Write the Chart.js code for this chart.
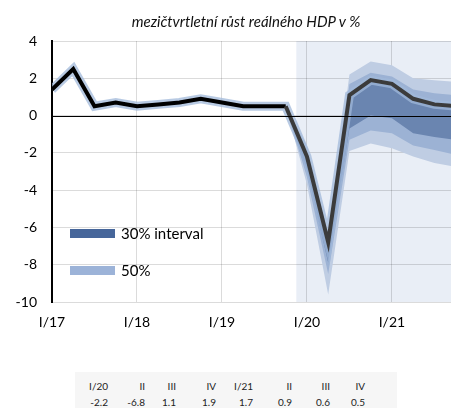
<!DOCTYPE html>
<html>
<head>
<meta charset="utf-8">
<script src="https://cdn.jsdelivr.net/npm/chart.js@4"></script>
<style>
  body { margin: 0; background: #fff; font-family: Lato, sans-serif; }
  #wrap { position: relative; width: 451px; height: 408px; overflow: hidden; }
  #chartBox { position: absolute; left: 0; top: 0; width: 451px; height: 340px; }
  #title { position: absolute; left: 46px; width: 400px; top: 12px; text-align: center;
           font-size: 15px; font-style: italic; color: #111; }
  .leg { position: absolute; left: 70px; font-size: 15px; color: #000; display: flex; align-items: center; }
  .leg span.sw { display: inline-block; width: 45px; height: 9px; margin-right: 6px; }
  #tableBox { position: absolute; left: 75px; top: 372px; width: 322px; height: 40px; background: #f6f6f6; }
  #tableBox table { border-collapse: collapse; font-size: 10px; color: #222; }
  #tableBox td { text-align: right; padding: 0; height: 16px; }
</style>
</head>
<body>
<div id="wrap">
  <div id="chartBox"><canvas id="gdpChart" width="451" height="340"></canvas></div>
  <div id="title"></div>
  <div class="leg" id="leg1" style="top:224px"><span class="sw" style="background:#46669a"></span><span></span></div>
  <div class="leg" id="leg2" style="top:261px"><span class="sw" style="background:#9cb3d8"></span><span></span></div>
  <div id="tableBox"><table id="fcTable"></table></div>
</div>
<script>
const titleText = 'mezičtvrtletní růst reálného HDP v %';

// quarters I/17 .. IV/21
const quarters = ['I/17', 'II', 'III', 'IV', 'I/18', 'II', 'III', 'IV', 'I/19', 'II', 'III', 'IV',
                  'I/20', 'II', 'III', 'IV', 'I/21', 'II', 'III', 'IV'];
const xTickLabels = ['I/17', 'I/18', 'I/19', 'I/20', 'I/21'];
const yTicks = [4, 2, 0, -2, -4, -6, -8, -10];

// GDP q/q growth (history + forecast)
const gdp = [1.4, 2.5, 0.5, 0.7, 0.5, 0.6, 0.7, 0.9, 0.7, 0.5, 0.5, 0.5,
             -2.2, -6.8, 1.1, 1.9, 1.7, 0.9, 0.6, 0.5];
const forecastFrom = 12;   // I/20
const shadeFrom = 11.5;

// fan bands, from IV/19 on
const bandStart = 11;
const outerUpper = [0.5, -1.6, -6.4, 2.2, 2.9, 2.7, 2.0, 1.9, 1.8];
const midUpper   = [0.5, -1.9, -6.6, 1.7, 2.3, 2.1, 1.4, 1.2, 1.1];
const innerUpper = [0.5, -2.1, -6.8, 1.1, 1.8, 1.6, 0.8, 0.5, 0.4];
const innerLower = [0.5, -2.9, -7.9, -0.7, 0.0, -0.15, -0.95, -1.15, -1.3];
const midLower   = [0.5, -3.3, -8.5, -1.3, -0.8, -0.95, -1.6, -1.85, -2.1];
const outerLower = [0.5, -3.7, -9.6, -1.9, -1.5, -1.75, -2.2, -2.55, -2.75];

const legendLabels = ['30% interval', '50%'];

const toPoints = arr => arr.map((v, i) => ({ x: i, y: v }));
const bandPoints = arr => arr.map((v, i) => ({ x: bandStart + i, y: v }));

function band(data, color, target) {
  return {
    data: bandPoints(data),
    borderWidth: 0,
    pointRadius: 0,
    backgroundColor: color,
    fill: target === undefined ? false : target
  };
}

const shadePlugin = {
  id: 'shade',
  beforeDraw(chart) {
    const { ctx, chartArea, scales } = chart;
    const x0 = scales.x.getPixelForValue(shadeFrom);
    ctx.save();
    ctx.fillStyle = '#e9eef6';
    ctx.fillRect(x0, chartArea.top, chartArea.right - x0, chartArea.bottom - chartArea.top);
    ctx.restore();
  },
  afterDatasetsDraw(chart) {
    const { ctx, chartArea, scales } = chart;
    const y0 = Math.round(scales.y.getPixelForValue(0)) + 0.5;
    ctx.save();
    ctx.strokeStyle = '#000';
    ctx.lineWidth = 1;
    ctx.beginPath();
    ctx.moveTo(chartArea.left, y0);
    ctx.lineTo(chartArea.right, y0);
    ctx.stroke();
    ctx.restore();
  }
};

new Chart(document.getElementById('gdpChart'), {
  type: 'line',
  data: {
    datasets: [
      {
        data: toPoints(gdp),
        borderWidth: 4,
        pointRadius: 0,
        borderColor: '#000',
        segment: {
          borderColor: c => c.p0DataIndex >= forecastFrom - 1 ? '#3b3b3b' : '#000'
        },
        fill: false
      },
      {
        data: toPoints(gdp),
        borderWidth: 9,
        pointRadius: 0,
        borderColor: 'rgba(160,184,218,0.75)',
        fill: false
      },
      band(innerUpper, '#6a85b0', 3),
      band(innerLower),
      band(midUpper, '#9cb2d4', 5),
      band(midLower),
      band(outerUpper, '#bfcde3', 7),
      band(outerLower)
    ]
  },
  options: {
    responsive: false,
    animation: false,
    layout: { padding: { top: 41 } },
    plugins: {
      legend: { display: false },
      tooltip: { enabled: false }
    },
    scales: {
      x: {
        type: 'linear',
        min: 0,
        max: 18.78,
        afterFit: s => { s.height = 38; },
        afterBuildTicks: s => { s.ticks = xTickLabels.map((_, i) => ({ value: i * 4 })); },
        ticks: {
          padding: 12,
          color: '#000',
          font: { family: 'Lato', size: 14 },
          autoSkip: false,
          maxRotation: 0,
          callback: (v) => xTickLabels[v / 4]
        },
        grid: { color: 'rgba(0,0,0,0.14)', drawTicks: false },
        border: { display: false }
      },
      y: {
        min: -10,
        max: 4,
        afterFit: s => { s.width = 52; },
        afterBuildTicks: s => { s.ticks = yTicks.map(v => ({ value: v })); },
        ticks: {
          padding: 15,
          color: '#000',
          font: { family: 'Lato', size: 14 }
        },
        grid: { color: 'rgba(0,0,0,0.14)', drawTicks: false },
        border: { display: true, color: '#000', width: 2 }
      }
    }
  },
  plugins: [shadePlugin]
});

// title and legend text
document.getElementById('title').textContent = titleText;
document.querySelector('#leg1 span:last-child').textContent = legendLabels[0];
document.querySelector('#leg2 span:last-child').textContent = legendLabels[1];

// forecast table under the chart
const table = document.getElementById('fcTable');
const colWidths = [33, 37, 31, 40, 37, 39, 38, 35];
const headRow = table.insertRow();
const valRow = table.insertRow();
quarters.slice(forecastFrom).forEach((q, i) => {
  const th = headRow.insertCell();
  th.textContent = q;
  th.style.width = colWidths[i] + 'px';
  const td = valRow.insertCell();
  td.textContent = gdp[forecastFrom + i].toFixed(1);
});
table.style.marginTop = '6px';
</script>
</body>
</html>
